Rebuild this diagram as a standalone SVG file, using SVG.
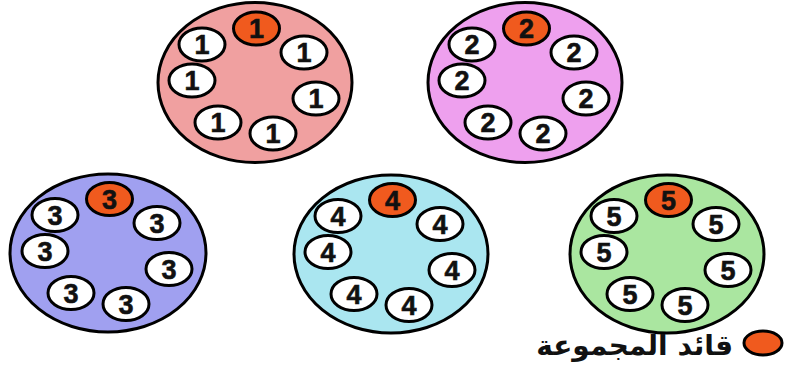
<svg xmlns="http://www.w3.org/2000/svg" width="789" height="382" viewBox="0 0 789 382">
<style>
.big{stroke:#000;stroke-width:3}
.m{fill:#fff;stroke:#000;stroke-width:3}
.l{fill:#f05a1e;stroke:#000;stroke-width:3}
.d{font-family:"Liberation Sans",Arial,sans-serif;font-weight:bold;font-size:27px;fill:#111;text-anchor:middle;stroke:#111;stroke-width:0.6}
.ar{font-family:"DejaVu Sans",sans-serif;font-weight:bold;font-size:28px;fill:#111}
</style>
<rect width="789" height="382" fill="#fff"/>
<g id="connectors"/>
<defs>
<g id="ring">
<ellipse class="l" cx="1.5" cy="-54" rx="23" ry="16.5"/>
<ellipse class="m" cx="-53" cy="-38" rx="23" ry="16.5"/>
<ellipse class="m" cx="49" cy="-30" rx="23" ry="16.5"/>
<ellipse class="m" cx="-63" cy="-2" rx="23" ry="16.5"/>
<ellipse class="m" cx="61" cy="16" rx="23" ry="16.5"/>
<ellipse class="m" cx="-37" cy="40" rx="23" ry="16.5"/>
<ellipse class="m" cx="18" cy="51" rx="23" ry="16.5"/>
</g>
</defs>
<g id="group1" transform="translate(255,82.5)">
<ellipse class="big" fill="#f0a0a0" rx="97" ry="80"/>
<use href="#ring"/>
<g class="d">
<text x="1.5" y="-44.5">1</text><text x="-53" y="-28.5">1</text><text x="49" y="-20.5">1</text><text x="-63" y="7.5">1</text><text x="61" y="25.5">1</text><text x="-37" y="49.5">1</text><text x="18" y="60.5">1</text>
</g>
</g>
<g id="group2" transform="translate(525,82.5)">
<ellipse class="big" fill="#eea0ee" rx="97" ry="80"/>
<use href="#ring"/>
<g class="d">
<text x="1.5" y="-44.5">2</text><text x="-53" y="-28.5">2</text><text x="49" y="-20.5">2</text><text x="-63" y="7.5">2</text><text x="61" y="25.5">2</text><text x="-37" y="49.5">2</text><text x="18" y="60.5">2</text>
</g>
</g>
<g id="group3" transform="translate(108,253)">
<ellipse class="big" fill="#a0a0f0" rx="98" ry="79"/>
<use href="#ring"/>
<g class="d">
<text x="1.5" y="-44.5">3</text><text x="-53" y="-28.5">3</text><text x="49" y="-20.5">3</text><text x="-63" y="7.5">3</text><text x="61" y="25.5">3</text><text x="-37" y="49.5">3</text><text x="18" y="60.5">3</text>
</g>
</g>
<g id="group4" transform="translate(391,254)">
<ellipse class="big" fill="#aae6f0" rx="97" ry="79"/>
<use href="#ring"/>
<g class="d">
<text x="1.5" y="-44.5">4</text><text x="-53" y="-28.5">4</text><text x="49" y="-20.5">4</text><text x="-63" y="7.5">4</text><text x="61" y="25.5">4</text><text x="-37" y="49.5">4</text><text x="18" y="60.5">4</text>
</g>
</g>
<g id="group5" transform="translate(667,254)">
<ellipse class="big" fill="#aae6a0" rx="97" ry="79"/>
<use href="#ring"/>
<g class="d">
<text x="1.5" y="-44.5">5</text><text x="-53" y="-28.5">5</text><text x="49" y="-20.5">5</text><text x="-63" y="7.5">5</text><text x="61" y="25.5">5</text><text x="-37" y="49.5">5</text><text x="18" y="60.5">5</text>
</g>
</g>
<g id="legend">
<ellipse class="l" cx="763" cy="343" rx="19" ry="12"/>
<text class="ar" x="733" y="355" text-anchor="start" direction="rtl">قائد المجموعة</text>
</g>
</svg>
